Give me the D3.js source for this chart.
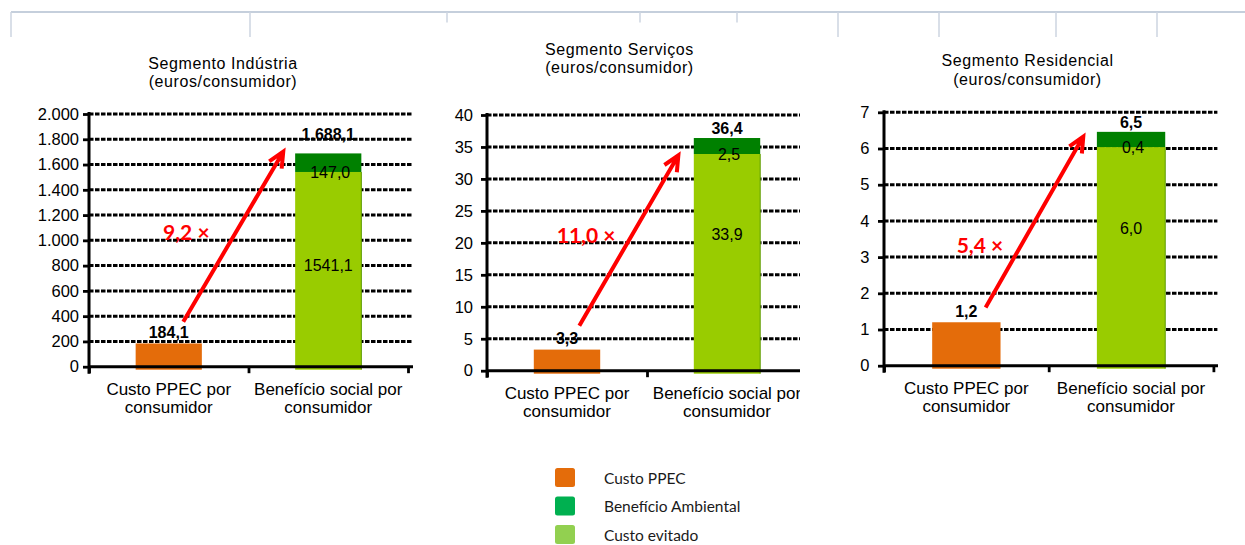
<!DOCTYPE html>
<html>
<head>
<meta charset="utf-8">
<script src="https://cdn.jsdelivr.net/npm/d3@7"></script>
<style>
  html, body { margin: 0; padding: 0; background: #fff; }
  svg { display: block; }
</style>
</head>
<body>
<svg id="chart" width="1245" height="545"></svg>
<script>
// ---- data ----
const segments = ["Segmento Indústria", "Segmento Serviços", "Segmento Residencial"];
const unitLabel = "(euros/consumidor)";
const categories = [["Custo PPEC por", "consumidor"], ["Benefício social por", "consumidor"]];
const custoPPEC = [184.1, 3.3, 1.2];
const custoEvitado = [1541.1, 33.9, 6.04];
const beneficioAmbiental = [147.0, 2.5, 0.42];
const ratios = [9.2, 11.0, 5.4];
const yMax = [2000, 40, 7];
const yStep = [200, 5, 1];
const legendItems = ["Custo PPEC", "Benefício Ambiental", "Custo evitado"];
const frameTicks = [11, 250, 447, 640, 737, 838, 939, 1056, 1157];
const frameShortTicks = [447, 640, 737];

// ---- style ----
const COLORS = { ppec: "#E46C0A", ambiental: "#008000", evitado: "#99CC00" };
const LEGEND_COLORS = ["#E46C0A", "#00B050", "#92D050"];
const ARIAL = "'Liberation Sans', Arial, sans-serif";
const CALIBRI = "Lato, 'Open Sans', sans-serif";

// ---- panel layout ----
const panels = [
  { x0: 0,   left: 89,  right: 408,    top: 114,   bottom: 366.7, clipRight: 413,
    tickPad: 4, titleX: 223,   titleY: [69, 86.5], totalGap: 19.5,
    evitadoAt: 0.52, ratioAt: [0.464, 1062], arrow: [[0.591, 356], [1.218, 1701.6]] },
  { x0: 420, left: 487, right: 807,    top: 115,   bottom: 370.7, clipRight: 800,
    tickPad: 8, titleX: 619.5, titleY: [55, 73.3], totalGap: 9.5,
    evitadoAt: 0.63, ratioAt: [0.436, 21.15], arrow: [[0.577, 7.04], [1.196, 33.7]] },
  { x0: 830, left: 884, right: 1213.4, top: 112.3, bottom: 365.7, clipRight: 1218,
    tickPad: 8.5, titleX: 1027.5, titleY: [66, 85], totalGap: 10,
    evitadoAt: 0.63, ratioAt: [0.441, 3.33], arrow: [[0.617, 1.61], [1.210, 6.33]] }
];

const pt = d3.formatLocale({ decimal: ",", thousands: ".", grouping: [3], currency: ["€", ""] });
const fmtTick = pt.format(",d");
const fmtTotal = pt.format(",.1f");
const fmtVal = pt.format(".1f");

const svg = d3.select("#chart");

// frame line across the top
const frame = svg.append("g");
frame.append("line")
  .attr("x1", frameTicks[0]).attr("x2", 1245).attr("y1", 12).attr("y2", 12)
  .attr("stroke", "#c5cfdc").attr("stroke-width", 2);
frame.selectAll("line.tick").data(frameTicks).join("line")
  .attr("class", "tick")
  .attr("x1", d => d).attr("x2", d => d)
  .attr("y1", 12).attr("y2", d => frameShortTicks.includes(d) ? 22.5 : 37)
  .attr("stroke", "#cdd5e0").attr("stroke-width", 1.5);

const defs = svg.append("defs");

panels.forEach((p, i) => {
  defs.append("clipPath").attr("id", "clip" + i)
    .append("rect").attr("x", p.x0).attr("y", 0)
    .attr("width", p.clipRight - p.x0).attr("height", 545);

  const g = svg.append("g").attr("clip-path", `url(#clip${i})`);

  const y = d3.scaleLinear().domain([0, yMax[i]]).range([p.bottom, p.top]);
  const x = d3.scaleBand().domain([0, 1]).range([p.left, p.right]).padding(0);
  const xc = d3.scaleLinear().domain([0, 2]).range([p.left, p.right]);
  const barW = x.bandwidth() * 0.415;
  const ticks = d3.range(0, yMax[i] + yStep[i] / 2, yStep[i]);

  // title
  const title = g.append("text")
    .attr("text-anchor", "middle")
    .attr("font-family", ARIAL).attr("font-size", 16)
    .attr("letter-spacing", 0.6).attr("fill", "#000");
  title.append("tspan").attr("x", p.titleX).attr("y", p.titleY[0]).text(segments[i]);
  title.append("tspan").attr("x", p.titleX).attr("y", p.titleY[1]).text(unitLabel);

  // dashed gridlines
  g.append("g").selectAll("line").data(ticks.filter(t => t > 0)).join("line")
    .attr("x1", p.left).attr("x2", p.right + 4)
    .attr("y1", d => y(d)).attr("y2", d => y(d))
    .attr("stroke", "#000").attr("stroke-width", 3)
    .attr("stroke-dasharray", "4.5,1.5");

  // bars
  const bars = g.append("g");
  const cx0 = x(0) + x.bandwidth() / 2;
  const cx1 = x(1) + x.bandwidth() / 2;
  const overhang = 3;
  bars.append("rect")
    .attr("x", cx0 - barW / 2).attr("width", barW)
    .attr("y", y(custoPPEC[i])).attr("height", y(0) - y(custoPPEC[i]) + overhang)
    .attr("fill", COLORS.ppec);
  const total = custoEvitado[i] + beneficioAmbiental[i];
  bars.append("rect")
    .attr("x", cx1 - barW / 2).attr("width", barW)
    .attr("y", y(custoEvitado[i])).attr("height", y(0) - y(custoEvitado[i]) + overhang)
    .attr("fill", COLORS.evitado);
  bars.append("rect")
    .attr("x", cx1 - barW / 2).attr("width", barW)
    .attr("y", y(total)).attr("height", y(custoEvitado[i]) - y(total))
    .attr("fill", COLORS.ambiental);
  bars.append("line")
    .attr("x1", cx1 + barW / 2).attr("x2", cx1 + barW / 2)
    .attr("y1", y(custoEvitado[i])).attr("y2", y(0) + overhang)
    .attr("stroke", "#5c9a00").attr("stroke-width", 1);

  // y axis
  const yAxis = g.append("g").attr("transform", `translate(${p.left},0)`)
    .call(d3.axisLeft(y).tickValues(ticks).tickFormat(fmtTick)
      .tickSize(6).tickSizeOuter(0).tickPadding(p.tickPad));
  yAxis.select(".domain").attr("stroke", "#000").attr("stroke-width", 3)
    .attr("d", `M0,${y(yMax[i]) - 2}V${y(0) + 7}`);
  yAxis.selectAll(".tick line").attr("stroke", "#000").attr("stroke-width", 2.8);
  yAxis.selectAll(".tick text")
    .attr("font-family", ARIAL).attr("font-size", 16.5).attr("fill", "#000");

  // x axis with ticks at category boundaries
  const xAxis = g.append("g").attr("transform", `translate(0,${y(0)})`)
    .call(d3.axisBottom(xc).tickValues([0, 1, 2]).tickFormat("").tickSize(6.5).tickSizeOuter(0));
  xAxis.select(".domain").attr("stroke", "#000").attr("stroke-width", 3)
    .attr("d", `M${p.left},0H${p.right + 6}`);
  xAxis.selectAll(".tick line").attr("stroke", "#000").attr("stroke-width", 2.8);

  // category labels
  [cx0, cx1].forEach((cx, k) => {
    const t = g.append("text").attr("text-anchor", "middle")
      .attr("font-family", ARIAL).attr("font-size", 17).attr("fill", "#000");
    categories[k].forEach((line, j) => {
      t.append("tspan").attr("x", cx).attr("y", y(0) + 22 + j * 18.3)
        .attr("dy", "0.36em").text(line);
    });
  });

  // value labels
  const lab = g.append("g").attr("text-anchor", "middle")
    .attr("font-family", ARIAL).attr("font-size", 16).attr("fill", "#000");
  lab.append("text").attr("x", cx0).attr("y", y(custoPPEC[i]) - 11).attr("dy", "0.36em")
    .attr("font-weight", "bold").text(fmtVal(custoPPEC[i]));
  lab.append("text").attr("x", cx1).attr("y", y(total) - p.totalGap).attr("dy", "0.36em")
    .attr("font-weight", "bold").text(fmtTotal(total));
  lab.append("text").attr("x", cx1 + 2).attr("y", y(custoEvitado[i])).attr("dy", "0.36em")
    .text(fmtVal(beneficioAmbiental[i]));
  lab.append("text").attr("x", cx1).attr("y", y(custoEvitado[i] * p.evitadoAt)).attr("dy", "0.36em")
    .text(fmtVal(custoEvitado[i]));

  // ratio arrow
  const [a, b] = p.arrow;
  const s = [xc(a[0]), y(a[1])], e = [xc(b[0]), y(b[1])];
  const len = Math.hypot(s[0] - e[0], s[1] - e[1]);
  const ux = (s[0] - e[0]) / len, uy = (s[1] - e[1]) / len;
  const arm = (ang) => {
    const c = Math.cos(ang), sn = Math.sin(ang);
    return [e[0] + 17 * (ux * c - uy * sn), e[1] + 17 * (ux * sn + uy * c)];
  };
  const r = 25 * Math.PI / 180;
  const a1 = arm(r), a2 = arm(-r);
  g.append("path")
    .attr("d", `M${s}L${e}M${a1}L${e}L${a2}`)
    .attr("fill", "none").attr("stroke", "#ff0000").attr("stroke-width", 4)
    .attr("stroke-linejoin", "miter").attr("stroke-miterlimit", 10);
  g.append("text")
    .attr("x", xc(p.ratioAt[0])).attr("y", y(p.ratioAt[1])).attr("dy", "0.36em")
    .attr("font-family", CALIBRI).attr("font-weight", "bold").attr("font-size", 21)
    .attr("fill", "#ff0000").text(`${fmtVal(ratios[i])} ×`);
});

// legend
const legend = svg.append("g");
const lgY = [468, 496.5, 525];
legendItems.forEach((name, k) => {
  legend.append("rect").attr("x", 555).attr("y", lgY[k]).attr("width", 20).attr("height", 19)
    .attr("rx", 2.5).attr("fill", LEGEND_COLORS[k]);
  legend.append("text").attr("x", 604).attr("y", lgY[k] + 10).attr("dy", "0.36em")
    .attr("font-family", CALIBRI).attr("font-size", 15.5).attr("fill", "#1a1a1a").text(name);
});
</script>
</body>
</html>
